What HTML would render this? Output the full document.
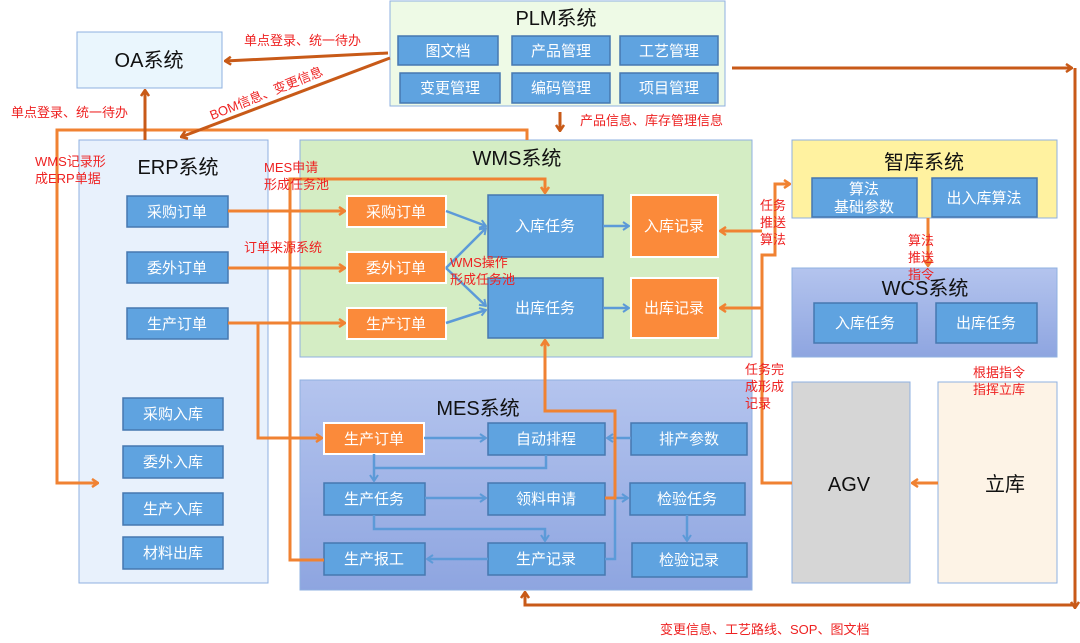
<!DOCTYPE html>
<html><head><meta charset="utf-8"><style>
html,body{margin:0;padding:0;background:#fff;}
svg{display:block;font-family:"Liberation Sans","Noto Sans CJK SC",sans-serif;}
.t{font-size:20px;fill:#111;text-anchor:middle}
.b{fill:#5fa3e0;stroke:#4678b0;stroke-width:1.5}
.o{fill:#fb8a3a;stroke:#fff;stroke-width:2}
.w{fill:#fff;font-size:15px;text-anchor:middle}
.r{fill:#ee2222;font-size:13px}
.ol{stroke:#f08232;stroke-width:3;fill:none}
.dl{stroke:#c85a18;stroke-width:3;fill:none}
.bl{stroke:#5c9ad8;stroke-width:2.5;fill:none}
</style></head><body>
<svg width="1080" height="643" viewBox="0 0 1080 643">
<defs>
<linearGradient id="g1" x1="0" y1="0" x2="0" y2="1"><stop offset="0" stop-color="#b4c4ee"/><stop offset="1" stop-color="#8ea5e0"/></linearGradient>
<marker id="ao" markerWidth="8" markerHeight="10" refX="7" refY="5" orient="auto" markerUnits="userSpaceOnUse"><path d="M1,1 L7,5 L1,9" fill="none" stroke="#f08232" stroke-width="2.5"/></marker>
<marker id="ad" markerWidth="8" markerHeight="10" refX="7" refY="5" orient="auto" markerUnits="userSpaceOnUse"><path d="M1,1 L7,5 L1,9" fill="none" stroke="#c85a18" stroke-width="2.5"/></marker>
<marker id="ab" markerWidth="8" markerHeight="10" refX="7" refY="5" orient="auto" markerUnits="userSpaceOnUse"><path d="M1,1 L7,5 L1,9" fill="none" stroke="#5c9ad8" stroke-width="2"/></marker>
</defs>

<rect x="77" y="32" width="145" height="56" fill="#eaf6fd" stroke="#8fb0e0"/>
<text class="t" x="149" y="67">OA系统</text>
<rect x="390" y="1" width="335" height="105" fill="#eefae6" stroke="#8fb0e0"/>
<text class="t" x="556" y="25">PLM系统</text>
<rect x="79" y="140" width="189" height="443" fill="#e8f1fc" stroke="#8fb0e0"/>
<text class="t" x="178" y="174">ERP系统</text>
<rect x="300" y="140" width="452" height="217" fill="#d4edc4" stroke="#8fb0e0"/>
<text class="t" x="517" y="165">WMS系统</text>
<rect x="792" y="140" width="265" height="78" fill="#fff2a0" stroke="#8fb0e0"/>
<text class="t" x="924" y="169">智库系统</text>
<rect x="792" y="268" width="265" height="89" fill="url(#g1)" stroke="#8fb0e0"/>
<text class="t" x="925" y="295">WCS系统</text>
<rect x="300" y="380" width="452" height="210" fill="url(#g1)" stroke="#8fb0e0"/>
<text class="t" x="478" y="415">MES系统</text>
<rect x="792" y="382" width="118" height="201" fill="#d6d6d6" stroke="#8fb0e0"/>
<text class="t" x="849" y="491">AGV</text>
<rect x="938" y="382" width="119" height="201" fill="#fdf3e6" stroke="#8fb0e0"/>
<text class="t" x="1005" y="491">立库</text>

<rect class="b" x="398" y="36" width="100" height="29"/><text class="w" x="448" y="56">图文档</text>
<rect class="b" x="512" y="36" width="98" height="29"/><text class="w" x="561" y="56">产品管理</text>
<rect class="b" x="620" y="36" width="98" height="29"/><text class="w" x="669" y="56">工艺管理</text>
<rect class="b" x="400" y="73" width="100" height="30"/><text class="w" x="450" y="93">变更管理</text>
<rect class="b" x="512" y="73" width="98" height="30"/><text class="w" x="561" y="93">编码管理</text>
<rect class="b" x="620" y="73" width="98" height="30"/><text class="w" x="669" y="93">项目管理</text>

<rect class="b" x="127" y="196" width="101" height="31"/><text class="w" x="177" y="217">采购订单</text>
<rect class="b" x="127" y="252" width="101" height="31"/><text class="w" x="177" y="273">委外订单</text>
<rect class="b" x="127" y="308" width="101" height="31"/><text class="w" x="177" y="329">生产订单</text>
<rect class="b" x="123" y="398" width="100" height="32"/><text class="w" x="173" y="419">采购入库</text>
<rect class="b" x="123" y="446" width="100" height="32"/><text class="w" x="173" y="467">委外入库</text>
<rect class="b" x="123" y="493" width="100" height="32"/><text class="w" x="173" y="514">生产入库</text>
<rect class="b" x="123" y="537" width="100" height="32"/><text class="w" x="173" y="558">材料出库</text>

<rect class="o" x="347" y="196" width="99" height="31"/><text class="w" x="396" y="217">采购订单</text>
<rect class="o" x="347" y="252" width="99" height="31"/><text class="w" x="396" y="273">委外订单</text>
<rect class="o" x="347" y="308" width="99" height="31"/><text class="w" x="396" y="329">生产订单</text>
<rect class="b" x="488" y="195" width="115" height="62"/><text class="w" x="545" y="231">入库任务</text>
<rect class="b" x="488" y="278" width="115" height="60"/><text class="w" x="545" y="313">出库任务</text>
<rect class="o" x="631" y="195" width="87" height="62"/><text class="w" x="674" y="231">入库记录</text>
<rect class="o" x="631" y="278" width="87" height="60"/><text class="w" x="674" y="313">出库记录</text>

<rect class="b" x="812" y="178" width="105" height="39"/><text class="w" x="864" y="194">算法</text><text class="w" x="864" y="212">基础参数</text>
<rect class="b" x="932" y="178" width="105" height="39"/><text class="w" x="984" y="203">出入库算法</text>
<rect class="b" x="814" y="303" width="103" height="40"/><text class="w" x="865" y="328">入库任务</text>
<rect class="b" x="936" y="303" width="101" height="40"/><text class="w" x="986" y="328">出库任务</text>

<rect class="o" x="324" y="423" width="100" height="31"/><text class="w" x="374" y="444">生产订单</text>
<rect class="b" x="488" y="423" width="117" height="32"/><text class="w" x="546" y="444">自动排程</text>
<rect class="b" x="631" y="423" width="116" height="32"/><text class="w" x="689" y="444">排产参数</text>
<rect class="b" x="324" y="483" width="101" height="32"/><text class="w" x="374" y="504">生产任务</text>
<rect class="b" x="488" y="483" width="117" height="32"/><text class="w" x="546" y="504">领料申请</text>
<rect class="b" x="630" y="483" width="115" height="32"/><text class="w" x="687" y="504">检验任务</text>
<rect class="b" x="324" y="543" width="101" height="32"/><text class="w" x="374" y="564">生产报工</text>
<rect class="b" x="488" y="543" width="117" height="32"/><text class="w" x="546" y="564">生产记录</text>
<rect class="b" x="632" y="543" width="115" height="34"/><text class="w" x="689" y="565">检验记录</text>

<path class="bl" d="M446,211 L486,226" marker-end="url(#ab)"/>
<path class="bl" d="M446,268 L486,228" marker-end="url(#ab)"/>
<path class="bl" d="M446,268 L486,306" marker-end="url(#ab)"/>
<path class="bl" d="M446,323 L486,310" marker-end="url(#ab)"/>
<path class="bl" d="M603,226 L629,226" marker-end="url(#ab)"/>
<path class="bl" d="M603,308 L629,308" marker-end="url(#ab)"/>
<path class="bl" d="M424,438 L486,438" marker-end="url(#ab)"/>
<path class="bl" d="M631,438 L607,438" marker-end="url(#ab)"/>
<path class="bl" d="M546,455 L546,468 L374,468"/>
<path class="bl" d="M374,454 L374,481" marker-end="url(#ab)"/>
<path class="bl" d="M425,498 L486,498" marker-end="url(#ab)"/>
<path class="bl" d="M374,515 L374,529 L545,529 L545,541" marker-end="url(#ab)"/>
<path class="bl" d="M488,559 L427,559" marker-end="url(#ab)"/>
<path class="bl" d="M605,559 L615,559 L615,498 L628,498" marker-end="url(#ab)"/>
<path class="bl" d="M687,515 L687,541" marker-end="url(#ab)"/>

<path class="ol" d="M228,211 L345,211" marker-end="url(#ao)"/>
<path class="ol" d="M228,268 L345,268" marker-end="url(#ao)"/>
<path class="ol" d="M228,323 L345,323" marker-end="url(#ao)"/>
<path class="ol" d="M258,323 L258,438 L322,438" marker-end="url(#ao)"/>
<path class="ol" d="M527,140 L527,130 L57,130 L57,483 L98,483" marker-end="url(#ao)"/>
<path class="ol" d="M324,560 L290,560 L290,179 L545,179 L545,193" marker-end="url(#ao)"/>
<path class="ol" d="M605,498 L615,498 L615,411 L545,411 L545,340" marker-end="url(#ao)"/>
<path class="ol" d="M792,483 L762,483 L762,255 L775,255 L775,184 L790,184" marker-end="url(#ao)"/>
<path class="ol" d="M762,231 L720,231" marker-end="url(#ao)"/>
<path class="ol" d="M762,308 L720,308" marker-end="url(#ao)"/>
<path class="ol" d="M928,218 L928,266" marker-end="url(#ao)"/>
<path class="ol" d="M938,483 L912,483" marker-end="url(#ao)"/>

<path class="dl" d="M388,53 L225,61" marker-end="url(#ad)"/>
<path class="dl" d="M390,58 L181,137" marker-end="url(#ad)"/>
<path class="dl" d="M145,140 L145,90" marker-end="url(#ad)"/>
<path class="dl" d="M560,112 L560,131" marker-end="url(#ad)"/>
<path class="dl" d="M732,68 L1072,68" marker-end="url(#ad)"/>
<path class="dl" d="M1075,68 L1075,608" marker-end="url(#ad)"/>
<path class="dl" d="M1075,605 L525,605 L525,592" marker-end="url(#ad)"/>

<text class="r" x="244" y="45">单点登录、统一待办</text>
<text class="r" x="212" y="120" transform="rotate(-22 212 120)">BOM信息、变更信息</text>
<text class="r" x="11" y="117">单点登录、统一待办</text>
<text class="r" x="35" y="166">WMS记录形</text>
<text class="r" x="35" y="183">成ERP单据</text>
<text class="r" x="264" y="172">MES申请</text>
<text class="r" x="264" y="189">形成任务池</text>
<text class="r" x="244" y="252">订单来源系统</text>
<text class="r" x="450" y="267">WMS操作</text>
<text class="r" x="450" y="284">形成任务池</text>
<text class="r" x="580" y="125">产品信息、库存管理信息</text>
<text class="r" x="760" y="210">任务</text>
<text class="r" x="760" y="227">推送</text>
<text class="r" x="760" y="244">算法</text>
<text class="r" x="908" y="245">算法</text>
<text class="r" x="908" y="262">推送</text>
<text class="r" x="908" y="279">指令</text>
<text class="r" x="745" y="374">任务完</text>
<text class="r" x="745" y="391">成形成</text>
<text class="r" x="745" y="408">记录</text>
<text class="r" x="973" y="377">根据指令</text>
<text class="r" x="973" y="394">指挥立库</text>
<text class="r" x="660" y="634">变更信息、工艺路线、SOP、图文档</text>
</svg>
</body></html>
